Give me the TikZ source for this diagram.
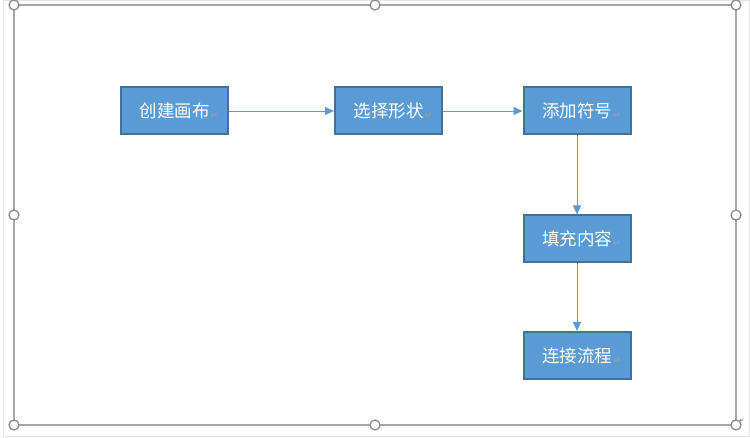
\documentclass[tikz,border=0pt]{standalone}
\usepackage{fontspec}
\newfontfamily\cjk{Noto Sans CJK SC}
\newfontfamily\symfont{DejaVu Sans}
\usetikzlibrary{arrows.meta}

\definecolor{boxfill}{HTML}{5B9BD5}
\definecolor{boxedge}{HTML}{41719C}
\definecolor{framegray}{HTML}{A6A6A6}
\definecolor{markgray}{HTML}{B09A8A}

\newcommand{\retmark}{\rlap{\kern1pt\raisebox{-1pt}{\symfont\fontsize{9}{9}\selectfont\color{markgray}↵}}}

\tikzset{
    stepbox/.style={draw=boxedge, fill=boxfill, line width=2pt, text=white,
        minimum width=107pt, minimum height=47pt, inner sep=0pt,
        font=\cjk\fontsize{17.5}{19}\selectfont},
    flow/.style={draw=boxfill, line width=0.9pt, -{Triangle[length=9pt, width=8pt]}},
    handle/.style={circle, draw=framegray!85!black, fill=white, line width=1.3pt,
        minimum size=10pt, inner sep=0pt}
}

\begin{document}
\begin{tikzpicture}[x=1pt, y=1pt]
    	\useasboundingbox (0,0) rectangle (750,-438);
    	% Canvas frame and handles:
    	\draw[black!10, line width=1pt] (3.5,-0.5) rectangle (749,-436.5);
    	\draw[framegray, line width=1.3pt] (14,-5) rectangle (736,-425);
    	\foreach \hx/\hy in {14/5, 375/5, 736/5, 14/215, 736/215, 14/425, 375/425, 736/425}
    		\node[handle] at (\hx,-\hy){};
    	\node[font=\symfont\fontsize{6}{6}\selectfont, text=black!70, inner sep=0pt] (cornermark) at (742,-421){↵};
    	% Boxes:
    	\node[stepbox] (canvas) at (174.5, -111){创建画布\retmark};
    	\node[stepbox] (shape) at (388.5, -111){选择形状\retmark};
    	\node[stepbox] (symbol) at (577, -111){添加符号\retmark};
    	\node[stepbox] (content) at (577, -239){填充内容\retmark};
    	\node[stepbox] (connect) at (577, -355.5){连接流程\retmark};
    	% Connectors:
    	\draw[flow] (canvas) -- (shape);
    	\draw[flow] (shape) -- (symbol);
    	\draw[flow] (symbol) -- (content);
    	\draw[flow] (content) -- (connect);
    \end{tikzpicture}
\end{document}
